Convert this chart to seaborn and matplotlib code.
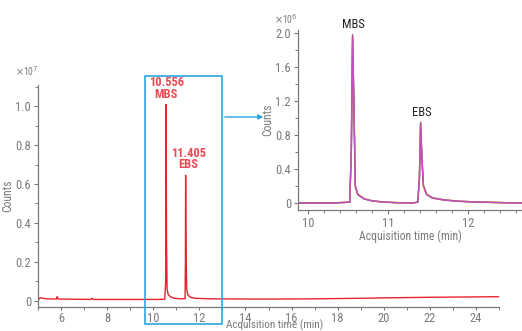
import matplotlib as mpl
import matplotlib.pyplot as plt
import matplotlib.ticker as mticker
import seaborn as sns
from matplotlib.patches import Rectangle, FancyArrowPatch

# full chromatogram (counts x1e7)
main_time = [5.0, 5.05, 5.1, 5.2, 5.4, 5.8, 5.83, 5.86, 5.9, 6.5, 7.3, 7.35, 7.4, 8.5,
             9.7, 10.2, 10.5, 10.54, 10.556, 10.575, 10.6, 10.65, 10.75, 10.9, 11.2,
             11.38, 11.395, 11.405, 11.42, 11.45, 11.5, 11.6, 11.8, 12.5, 14.0, 15.0,
             15.5, 17.0, 19.0, 20.0, 22.0, 24.0, 25.0]
main_counts = [0.004, 0.008, 0.015, 0.012, 0.009, 0.008, 0.02, 0.012, 0.008, 0.007, 0.006,
               0.012, 0.006, 0.006, 0.006, 0.006, 0.007, 0.1, 1.01, 0.3, 0.06, 0.03, 0.02,
               0.012, 0.009, 0.01, 0.2, 0.645, 0.3, 0.06, 0.03, 0.018, 0.012, 0.009, 0.008,
               0.008, 0.008, 0.009, 0.012, 0.014, 0.017, 0.019, 0.02]

# zoomed replicates (counts x1e6)
inset_time = [9.85, 10.3, 10.52, 10.54, 10.556, 10.57, 10.59, 10.62, 10.7, 10.8, 10.95,
              11.1, 11.3, 11.37, 11.39, 11.405, 11.42, 11.44, 11.48, 11.55, 11.7, 11.9,
              12.1, 12.4, 12.7]
inset_reps = {
    'rep1': [0.0, 0.0, 0.01, 0.6, 1.97, 1.3, 0.2, 0.1, 0.05, 0.025, 0.01, 0.005, 0.0, 0.01,
             0.3, 0.94, 0.55, 0.2, 0.1, 0.06, 0.035, 0.02, 0.012, 0.005, 0.0],
    'rep2': [0.0, 0.0, 0.01, 0.55, 1.94, 1.25, 0.21, 0.11, 0.05, 0.028, 0.012, 0.005, 0.0,
             0.01, 0.28, 0.92, 0.56, 0.21, 0.11, 0.065, 0.038, 0.022, 0.013, 0.006, 0.0],
    'rep3': [0.0, 0.0, 0.01, 0.62, 1.98, 1.32, 0.19, 0.1, 0.048, 0.024, 0.01, 0.004, 0.0,
             0.01, 0.31, 0.95, 0.54, 0.2, 0.1, 0.058, 0.034, 0.019, 0.011, 0.005, 0.0],
    'rep4': [0.0, 0.0, 0.01, 0.58, 1.96, 1.28, 0.2, 0.1, 0.05, 0.026, 0.011, 0.005, 0.0,
             0.01, 0.29, 0.93, 0.55, 0.2, 0.1, 0.06, 0.036, 0.02, 0.012, 0.005, 0.0],
}
rep_colors = ['#a89a3c', '#e89a40', '#8f6a70', '#c34fc0']

GREY = '#7a7a7a'
RED = '#e8232b'
LABEL_RED = '#ea4a52'
BLUE = '#2aa6df'


def style_axes(ax):
    sns.despine(ax=ax)
    for s in ['left', 'bottom']:
        ax.spines[s].set_color(GREY)
        ax.spines[s].set_linewidth(0.9)
    ax.tick_params(which='both', colors=GREY, labelcolor=GREY, labelsize=9, direction='out')
    ax.tick_params(which='major', length=3, width=0.8, pad=2)
    ax.tick_params(which='minor', length=2, width=0.7)


def main():
    sns.set_style('ticks')
    plt.rcParams['font.family'] = ['Roboto Condensed', 'DejaVu Sans']
    mpl.rcParams['figure.dpi'] = 100

    fig = plt.figure(figsize=(5.22, 3.31))

    # main chromatogram
    ax = fig.add_axes([38 / 522, 1 - 307 / 331, 461 / 522, 222 / 331])
    sns.lineplot(x=main_time, y=main_counts, ax=ax, color=RED, linewidth=1.0, sort=False)
    ax.set_xlim(5, 25)
    ax.set_ylim(-0.033, 1.11)
    ax.set_xticks([6, 8, 10, 12, 14, 16, 18, 20, 22, 24])
    ax.xaxis.set_minor_locator(mticker.MultipleLocator(1))
    ax.set_yticks([0, 0.2, 0.4, 0.6, 0.8, 1.0])
    ax.set_yticklabels(['0', '0.2', '0.4', '0.6', '0.8', '1.0'])
    ax.yaxis.set_minor_locator(mticker.MultipleLocator(0.1))
    style_axes(ax)
    ax.tick_params(axis='x', which='major', length=2.5, pad=1)
    ax.set_xlabel('Acquisition time (min)', color=GREY, fontsize=8)
    ax.xaxis.set_label_coords(0.514, -0.056)
    ax.set_ylabel('Counts', color=GREY, fontsize=8.5, labelpad=1)
    ax.text(-0.05, 1.03, r'$\times$10$^7$', transform=ax.transAxes, color=GREY,
            fontsize=7, ha='left', va='bottom')
    ax.text(10.57, 1.03, '10.556\nMBS', color=LABEL_RED, fontsize=9, ha='center',
            va='bottom', linespacing=0.85, fontweight='bold')
    ax.text(11.52, 0.665, '11.405\nEBS', color=LABEL_RED, fontsize=9, ha='center',
            va='bottom', linespacing=0.85, fontweight='bold')

    # zoom box and arrow (figure pixels)
    fig.patches.append(Rectangle((145 / 522, 1 - 324 / 331), 77 / 522, 248 / 331,
                                 transform=fig.transFigure, fill=False,
                                 edgecolor=BLUE, linewidth=1.2))
    fig.add_artist(FancyArrowPatch((222 / 522, 1 - 117 / 331), (266 / 522, 1 - 117 / 331),
                                   transform=fig.transFigure, arrowstyle='-|>',
                                   mutation_scale=7, color=BLUE, linewidth=1.0))

    # inset with replicate overlay
    axi = fig.add_axes([298 / 522, 1 - 210 / 331, 224 / 522, 180 / 331])
    for (name, vals), c in zip(inset_reps.items(), rep_colors):
        sns.lineplot(x=inset_time, y=vals, ax=axi, color=c, linewidth=1.0, sort=False)
    axi.set_xlim(9.875, 12.67)
    axi.set_ylim(-0.082, 2.035)
    axi.set_xticks([10, 11, 12])
    axi.xaxis.set_minor_locator(mticker.MultipleLocator(0.2))
    axi.set_yticks([0, 0.4, 0.8, 1.2, 1.6, 2.0])
    axi.set_yticklabels(['0', '0.4', '0.8', '1.2', '1.6', '2.0'])
    axi.yaxis.set_minor_locator(mticker.MultipleLocator(0.2))
    style_axes(axi)
    axi.set_xlabel('Acquisition time (min)', color=GREY, fontsize=8.5, labelpad=0)
    axi.set_ylabel('Counts', color=GREY, fontsize=8.5, labelpad=1)
    axi.text(-0.105, 1.02, r'$\times$10$^6$', transform=axi.transAxes, color=GREY,
             fontsize=7, ha='left', va='bottom')
    axi.text(10.565, 2.02, 'MBS', color='#222222', fontsize=9, ha='center', va='bottom')
    axi.text(11.42, 0.99, 'EBS', color='#222222', fontsize=9, ha='center', va='bottom')

    fig.savefig('out.png', dpi=100)


if __name__ == '__main__':
    main()
